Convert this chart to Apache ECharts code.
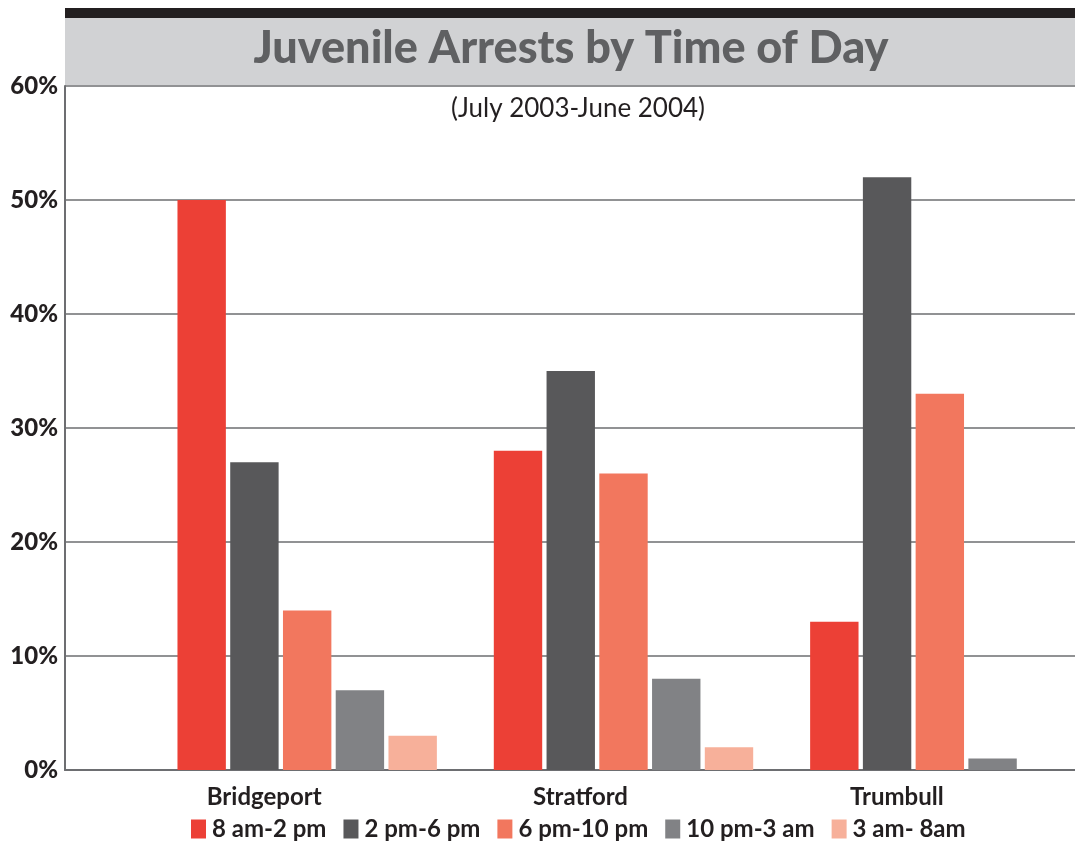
<!DOCTYPE html>
<html>
<head>
<meta charset="utf-8">
<script src="https://cdn.jsdelivr.net/npm/echarts@6/dist/echarts.min.js"></script>
<style>html,body{margin:0;padding:0;background:#fff;overflow:hidden;}#c{width:1100px;height:847px;}</style>
</head>
<body>
<div id="c"></div>
<script>
const categories = ['Bridgeport', 'Stratford', 'Trumbull'];
const seriesNames = ['8 am-2 pm', '2 pm-6 pm', '6 pm-10 pm', '10 pm-3 am', '3 am- 8am'];
const s8to2 = [50, 28, 13];
const s2to6 = [27, 35, 52];
const s6to10 = [14, 26, 33];
const s10to3 = [7, 8, 1];
const s3to8 = [3, 2, 0];
const yTicks = [0, 10, 20, 30, 40, 50, 60];
const colors = ['#EC4036', '#58585A', '#F2775E', '#818285', '#F7B09A'];

const values = [s8to2, s2to6, s6to10, s10to3, s3to8];
const chart = echarts.init(document.getElementById('c'));
const font = 'Lato, "Open Sans", sans-serif';
chart.setOption({
  animation: false,
  color: colors,
  graphic: [
    { type: 'rect', shape: { x: 65, y: 8, width: 1040, height: 10 }, style: { fill: '#231F20' }, z: 0 },
    { type: 'rect', shape: { x: 65, y: 18, width: 1040, height: 67 }, style: { fill: '#D1D2D4' }, z: 0 }
  ],
  title: [
    { text: 'Juvenile Arrests by Time of Day', left: 566, top: 21, textAlign: 'center',
      textStyle: { fontFamily: font, fontWeight: 900, fontSize: 45, color: '#5F6062' } },
    { text: '(July 2003-June 2004)', left: 573, top: 91, textAlign: 'center',
      textStyle: { fontFamily: font, fontWeight: 'normal', fontSize: 26, color: '#231F20' } }
  ],
  legend: {
    data: seriesNames, bottom: 1, left: 186, itemWidth: 15, itemHeight: 19, itemGap: 17,
    icon: 'rect',
    textStyle: { fontFamily: font, fontWeight: 'bold', fontSize: 24, color: '#231F20', padding: [0, 0, 0, 1] }
  },
  grid: [
    { left: 65, width: 1035, top: 86, bottom: 77 },
    { left: 149, width: 949, top: 86, bottom: 77 }
  ],
  xAxis: [
    { type: 'category', gridIndex: 0, data: categories, axisLabel: { show: false }, axisTick: { show: false },
      axisLine: { lineStyle: { color: '#6D6E71', width: 2 } } },
    { type: 'category', gridIndex: 1, data: categories, axisTick: { show: false }, axisLine: { show: false },
      axisLabel: { fontFamily: font, fontWeight: 'bold', fontSize: 24, color: '#231F20', margin: 15, padding: [0, 86, 0, 0] } }
  ],
  yAxis: [
    { type: 'value', gridIndex: 0, min: 0, max: 60, interval: 10,
      axisLine: { show: true, lineStyle: { color: '#6D6E71', width: 2 } },
      axisLabel: { formatter: v => v + '%', fontFamily: font, fontWeight: 900, fontSize: 24, color: '#231F20', margin: 7, padding: [8, 0, 0, 0] },
      splitLine: { lineStyle: { color: '#6D6E71', width: 1.5 } } },
    { type: 'value', gridIndex: 1, min: 0, max: 60, interval: 10, show: false, splitLine: { show: false } }
  ],
  series: seriesNames.map((n, i) => ({
    name: n, type: 'bar', xAxisIndex: 1, yAxisIndex: 1, data: values[i],
    barGap: '9%', barCategoryGap: '18%', itemStyle: { color: colors[i] }
  }))
});
</script>
</body>
</html>
